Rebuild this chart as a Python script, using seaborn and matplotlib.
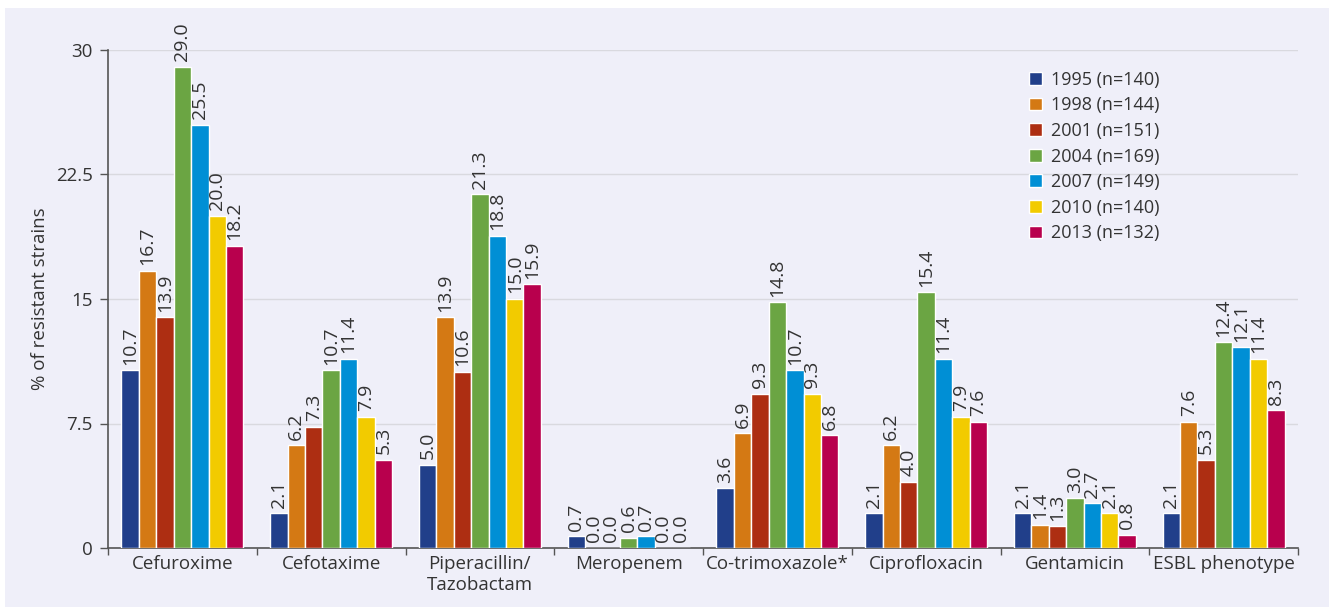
import matplotlib.pyplot as plt
import matplotlib.patches as mpatches
import pandas as pd
import seaborn as sns
from matplotlib.ticker import FixedLocator

antibiotics = [
    "Cefuroxime",
    "Cefotaxime",
    "Piperacillin/\nTazobactam",
    "Meropenem",
    "Co-trimoxazole*",
    "Ciprofloxacin",
    "Gentamicin",
    "ESBL phenotype",
]
years = [
    "1995 (n=140)",
    "1998 (n=144)",
    "2001 (n=151)",
    "2004 (n=169)",
    "2007 (n=149)",
    "2010 (n=140)",
    "2013 (n=132)",
]
# one list per year, in the order of antibiotics
values_1995 = [10.7, 2.1, 5.0, 0.7, 3.6, 2.1, 2.1, 2.1]
values_1998 = [16.7, 6.2, 13.9, 0.0, 6.9, 6.2, 1.4, 7.6]
values_2001 = [13.9, 7.3, 10.6, 0.0, 9.3, 4.0, 1.3, 5.3]
values_2004 = [29.0, 10.7, 21.3, 0.6, 14.8, 15.4, 3.0, 12.4]
values_2007 = [25.5, 11.4, 18.8, 0.7, 10.7, 11.4, 2.7, 12.1]
values_2010 = [20.0, 7.9, 15.0, 0.0, 9.3, 7.9, 2.1, 11.4]
values_2013 = [18.2, 5.3, 15.9, 0.0, 6.8, 7.6, 0.8, 8.3]
colors = ["#213f8a", "#d47914", "#ad2e12", "#6ba543", "#008fd5", "#f2cb00", "#b8004d"]

series = [values_1995, values_1998, values_2001, values_2004, values_2007, values_2010, values_2013]
rows = []
for year, vals in zip(years, series):
    for ab, v in zip(antibiotics, vals):
        rows.append({"antibiotic": ab, "year": year, "value": v})
df = pd.DataFrame(rows)

bg = "#efeff9"
text_color = "#333333"

sns.set_theme(style="white")
plt.rcParams["font.family"] = ["Open Sans", "DejaVu Sans"]

fig = plt.figure(figsize=(13.34, 6.12), dpi=100)
fig.patch.set_facecolor("white")
fig.patches.append(
    mpatches.Rectangle((5 / 1334, 5 / 612), 1324 / 1334, 599 / 612,
                       transform=fig.transFigure, facecolor=bg, edgecolor="none", zorder=-10)
)
ax = fig.add_axes([108 / 1334, 64 / 612, 1190 / 1334, 498 / 612])
ax.set_facecolor(bg)

sns.barplot(
    data=df, x="antibiotic", y="value", hue="year",
    order=antibiotics, hue_order=years, palette=colors,
    width=0.82, saturation=1, ax=ax, legend=True, zorder=3,
)

for container in ax.containers:
    ax.bar_label(container, fmt="%.1f", rotation=90, padding=4,
                 fontsize=14, color=text_color)

ax.set_ylim(0, 30)
ax.set_xlim(-0.5, len(antibiotics) - 0.5)
ax.set_yticks([0, 7.5, 15, 22.5, 30])
ax.set_yticklabels(["0", "7.5", "15", "22.5", "30"])
ax.yaxis.grid(True, color="#d9d9df", linewidth=1, zorder=0)
ax.set_axisbelow(True)

for side in ["top", "right"]:
    ax.spines[side].set_visible(False)
for side in ["left", "bottom"]:
    ax.spines[side].set_color("#555555")
    ax.spines[side].set_linewidth(1.2)

ax.tick_params(axis="y", which="major", direction="out", length=6, width=1,
               color="#555555", labelsize=13.5, labelcolor=text_color, pad=5, left=True)
ax.tick_params(axis="x", which="major", length=0, labelsize=13.5,
               labelcolor=text_color, pad=5)
ax.xaxis.set_minor_locator(FixedLocator([i - 0.5 for i in range(len(antibiotics) + 1)]))
ax.tick_params(axis="x", which="minor", direction="out", length=5, width=1,
               color="#555555", bottom=True)

ax.set_xlabel("")
ax.set_ylabel("% of resistant strains", fontsize=13.5, color=text_color, labelpad=5)

leg = ax.legend(
    loc="upper left", bbox_to_anchor=(0.765, 0.98), frameon=False,
    fontsize=13, handlelength=0.7, handleheight=0.7, handletextpad=0.5,
    labelspacing=0.42, labelcolor=text_color, borderaxespad=0.2,
)

fig.savefig("out.png", dpi=100, facecolor=fig.get_facecolor())
